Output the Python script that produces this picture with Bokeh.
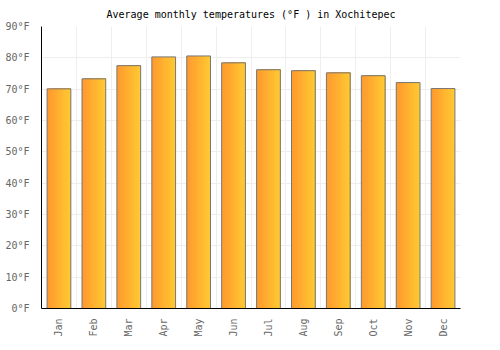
from bokeh.plotting import figure
from bokeh.models import ColumnDataSource, FactorRange, Range1d, FixedTicker, PrintfTickFormatter
from bokeh.transform import dodge
from bokeh.embed import file_html
from bokeh.resources import INLINE
import math

months = ["Jan", "Feb", "Mar", "Apr", "May", "Jun", "Jul", "Aug", "Sep", "Oct", "Nov", "Dec"]
temps_f = [70.1, 73.3, 77.5, 80.3, 80.6, 78.4, 76.2, 75.9, 75.2, 74.3, 72.1, 70.2]
y_ticks = [0, 10, 20, 30, 40, 50, 60, 70, 80, 90]
title_text = "Average monthly temperatures (°F ) in Xochitepec"

FONT = "DejaVu Sans Mono"
BAR_W = 0.68
N_SLICES = 24
c0 = (0xFF, 0x99, 0x2E)
c1 = (0xFF, 0xCA, 0x33)

p = figure(
    width=500, height=350,
    x_range=FactorRange(*months, range_padding=0),
    y_range=Range1d(0, 90),
    output_backend="svg", toolbar_location=None,
    min_border_left=41, min_border_right=40, min_border_top=25, min_border_bottom=42,
)
p.title.text = title_text
p.title.align = "center"
p.title.text_font = FONT
p.title.text_font_size = "10px"
p.title.text_font_style = "normal"
p.title.text_color = "#000000"
p.title.standoff = 13
p.outline_line_color = None

source = ColumnDataSource(dict(month=months, temp=temps_f))

# gradient fill via layered slices (each slice runs to the bar's right edge)
sw = BAR_W / N_SLICES
for k in range(N_SLICES):
    t = (k + 0.5) / N_SLICES
    col = "#%02x%02x%02x" % tuple(int(round(a + (b - a) * t)) for a, b in zip(c0, c1))
    left = -BAR_W / 2 + k * sw
    right = BAR_W / 2
    p.vbar(x=dodge("month", (left + right) / 2, range=p.x_range), top="temp", bottom=0,
           width=right - left, source=source, fill_color=col, line_color=None)

p.vbar(x="month", top="temp", bottom=0, width=BAR_W, source=source,
       fill_alpha=0, line_color="#777777", line_width=1)

# grids
p.ygrid.ticker = FixedTicker(ticks=y_ticks)
p.ygrid.grid_line_color = "#eeeeee"
p.xgrid.ticker = FixedTicker(ticks=list(range(len(months) + 1)))
p.xgrid.grid_line_color = "#eeeeee"

# axes
p.yaxis.ticker = FixedTicker(ticks=y_ticks)
p.yaxis.formatter = PrintfTickFormatter(format="%d°F")
p.yaxis.major_tick_line_color = None
p.yaxis.minor_tick_line_color = None
p.yaxis.axis_line_color = "#000000"
p.yaxis.major_label_text_font = FONT
p.yaxis.major_label_text_font_size = "10px"
p.yaxis.major_label_text_color = "#666666"
p.yaxis.major_label_standoff = 6

p.xaxis.major_tick_line_color = None
p.xaxis.axis_line_color = "#000000"
p.xaxis.major_label_orientation = math.pi / 2
p.xaxis.major_label_text_font = FONT
p.xaxis.major_label_text_font_size = "10px"
p.xaxis.major_label_text_color = "#666666"
p.xaxis.major_label_standoff = 4

open("out.html", "w").write(file_html(p, INLINE))
